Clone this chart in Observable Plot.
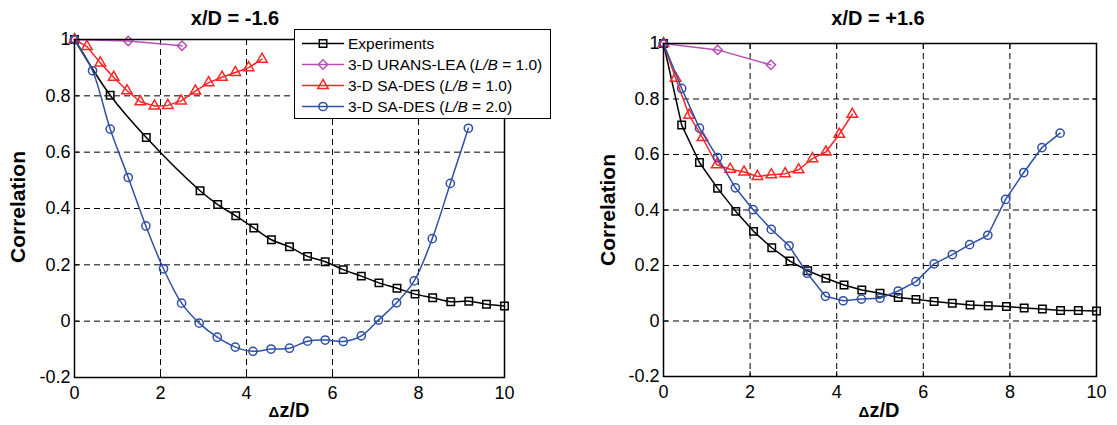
<!DOCTYPE html>
<html>
<head>
<meta charset="utf-8">
<script src="https://cdn.jsdelivr.net/npm/d3@7"></script>
<script src="https://cdn.jsdelivr.net/npm/@observablehq/plot@0.6"></script>
<style>
  html, body { margin: 0; padding: 0; background: #fff; }
  #wrap { position: relative; width: 1117px; height: 425px; overflow: hidden; font-family: "Liberation Sans", Arial, sans-serif; }
  .panel { position: absolute; top: 0; }
  .title { position: absolute; font-weight: bold; font-size: 20px; white-space: nowrap; transform: translateX(-50%); }
  .xlabel { position: absolute; font-weight: bold; font-size: 20px; white-space: nowrap; transform: translateX(-50%); }
  .ylabel { position: absolute; font-weight: bold; font-size: 21px; white-space: nowrap; transform: translate(-50%, -50%) rotate(-90deg); }
  #legend { position: absolute; left: 294px; top: 29px; width: 257px; height: 90px; box-sizing: border-box; border: 1px solid #000; background: #fff; padding-top: 3px; }
  .lrow { display: flex; align-items: center; height: 21px; font-size: 15.5px; }
  .lrow svg { margin-left: 7px; margin-right: 4px; }
</style>
</head>
<body>
<div id="wrap"></div>
<script>
// ---- data ----
const xTicks = [0, 2, 4, 6, 8, 10];
const yTicks = [-0.2, 0, 0.2, 0.4, 0.6, 0.8, 1];

const seriesNames = ["Experiments", "3-D URANS-LEA", "3-D SA-DES (L/B = 1.0)", "3-D SA-DES (L/B = 2.0)"];
const seriesColors = ["#000000", "#bb4fb3", "#ff2525", "#2f50a6"];
const seriesSymbols = ["square", "diamond2", "triangle", "circle"];

// x/D = -1.6
const leftExpX = [0, 0.83, 1.67, 2.92, 3.33, 3.75, 4.17, 4.58, 5.0, 5.42, 5.83, 6.25, 6.67, 7.08, 7.5, 7.92, 8.33, 8.75, 9.17, 9.58, 10];
const leftExpY = [1.0, 0.802, 0.652, 0.463, 0.414, 0.374, 0.331, 0.289, 0.264, 0.230, 0.211, 0.183, 0.160, 0.136, 0.117, 0.096, 0.083, 0.069, 0.071, 0.060, 0.054];
const leftUransX = [0, 1.25, 2.5];
const leftUransY = [1.0, 0.995, 0.978];
const leftDes1X = [0, 0.29, 0.60, 0.91, 1.22, 1.53, 1.86, 2.17, 2.48, 2.81, 3.12, 3.43, 3.74, 4.05, 4.36];
const leftDes1Y = [1.0, 0.975, 0.917, 0.866, 0.818, 0.779, 0.764, 0.766, 0.782, 0.817, 0.847, 0.866, 0.883, 0.900, 0.930];
const leftDes2X = [0, 0.42, 0.83, 1.25, 1.66, 2.07, 2.49, 2.90, 3.32, 3.74, 4.15, 4.57, 5.0, 5.42, 5.83, 6.25, 6.67, 7.07, 7.49, 7.9, 8.32, 8.74, 9.16];
const leftDes2Y = [1.0, 0.889, 0.682, 0.510, 0.338, 0.186, 0.064, -0.007, -0.057, -0.092, -0.107, -0.099, -0.096, -0.071, -0.067, -0.072, -0.052, 0.004, 0.065, 0.143, 0.293, 0.489, 0.685];

// x/D = +1.6
const rightExpX = [0, 0.42, 0.83, 1.25, 1.67, 2.08, 2.5, 2.92, 3.33, 3.75, 4.17, 4.58, 5.0, 5.42, 5.83, 6.25, 6.67, 7.08, 7.5, 7.92, 8.33, 8.75, 9.17, 9.58, 10];
const rightExpY = [1.0, 0.706, 0.571, 0.478, 0.395, 0.323, 0.264, 0.216, 0.181, 0.154, 0.130, 0.112, 0.100, 0.085, 0.078, 0.070, 0.064, 0.058, 0.055, 0.052, 0.047, 0.043, 0.038, 0.038, 0.036];
const rightUransX = [0, 1.25, 2.48];
const rightUransY = [1.0, 0.977, 0.923];
const rightDes1X = [0, 0.28, 0.59, 0.90, 1.23, 1.54, 1.86, 2.17, 2.49, 2.81, 3.12, 3.44, 3.75, 4.06, 4.36];
const rightDes1Y = [1.0, 0.875, 0.742, 0.661, 0.563, 0.547, 0.537, 0.521, 0.527, 0.531, 0.545, 0.585, 0.609, 0.673, 0.745];
const rightDes2X = [0, 0.42, 0.83, 1.25, 1.66, 2.07, 2.49, 2.9, 3.32, 3.74, 4.15, 4.57, 5.0, 5.42, 5.83, 6.25, 6.67, 7.07, 7.49, 7.9, 8.32, 8.74, 9.16];
const rightDes2Y = [1.0, 0.838, 0.695, 0.589, 0.480, 0.401, 0.330, 0.271, 0.172, 0.089, 0.073, 0.079, 0.082, 0.108, 0.142, 0.206, 0.239, 0.275, 0.309, 0.438, 0.535, 0.625, 0.677];

// ---- build ----
const zip = (xs, ys) => xs.map((x, i) => ({x, y: ys[i]}));
const symbolR = {square: 4.2, diamond2: 4.2, triangle: 3.9, circle: 4.1};
const fmt = d => String(+d.toFixed(1));
const blank = () => "";

function panel(series, curves, opts) {
  const marks = [
    Plot.gridX(xTicks, {stroke: "#000", strokeOpacity: 1, strokeWidth: 1, strokeDasharray: "6,4"}),
    Plot.gridY(yTicks, {stroke: "#000", strokeOpacity: 1, strokeWidth: 1, strokeDasharray: "6,4"}),
    Plot.axisX(xTicks, {anchor: "bottom", tickSize: 0, tickPadding: 9, tickFormat: fmt, fontSize: 18, label: null}),
    Plot.axisY(yTicks, {anchor: "left", tickSize: 0, tickPadding: 4, tickFormat: fmt, fontSize: 18, label: null}),
    Plot.axisX(xTicks, {anchor: "bottom", tickSize: 5, dy: -5, tickFormat: blank, strokeWidth: 1, label: null}),
    Plot.axisX(xTicks, {anchor: "top", tickSize: 5, dy: 5, tickFormat: blank, strokeWidth: 1, label: null}),
    Plot.axisY(yTicks, {anchor: "left", tickSize: 5, dx: 5, tickFormat: blank, strokeWidth: 1, label: null}),
    Plot.axisY(yTicks, {anchor: "right", tickSize: 5, dx: -5, tickFormat: blank, strokeWidth: 1, label: null})
  ];
  series.forEach((s, i) => {
    marks.push(Plot.line(s, {x: "x", y: "y", stroke: seriesColors[i], strokeWidth: 1.5, curve: curves[i]}));
    marks.push(Plot.dot(s, {x: "x", y: "y", symbol: seriesSymbols[i], stroke: seriesColors[i], fill: "none", strokeWidth: 1.5, r: symbolR[seriesSymbols[i]]}));
  });
  marks.push(Plot.frame({stroke: "#000", strokeWidth: 1.5}));
  return Plot.plot({
    width: opts.width, height: 425,
    marginLeft: opts.ml, marginRight: opts.mr, marginTop: opts.mt, marginBottom: opts.mb,
    x: {domain: [0, 10], label: null},
    y: {domain: [-0.2, 1], label: null},
    style: {fontFamily: "Liberation Sans, Arial, sans-serif", color: "#000", background: "transparent", overflow: "visible"},
    marks
  });
}

const wrap = document.getElementById("wrap");

const leftSeries = [zip(leftExpX, leftExpY), zip(leftUransX, leftUransY), zip(leftDes1X, leftDes1Y), zip(leftDes2X, leftDes2Y)];
const rightSeries = [zip(rightExpX, rightExpY), zip(rightUransX, rightUransY), zip(rightDes1X, rightDes1Y), zip(rightDes2X, rightDes2Y)];

const left = panel(leftSeries, ["catmull-rom", "linear", "linear", "catmull-rom"], {width: 590, ml: 74, mr: 86, mt: 39, mb: 48});
left.classList.add("panel"); left.style.left = "0px";
wrap.appendChild(left);

const right = panel(rightSeries, ["linear", "linear", "linear", "linear"], {width: 527, ml: 73, mr: 21, mt: 43, mb: 49});
right.classList.add("panel"); right.style.left = "590px";
wrap.appendChild(right);

function addText(cls, html, x, y) {
  const d = document.createElement("div");
  d.className = cls; d.innerHTML = html;
  d.style.left = x + "px"; d.style.top = y + "px";
  wrap.appendChild(d);
}
addText("title", "x/D = -1.6", 235, 7);
addText("title", "x/D = +1.6", 878, 7);
addText("xlabel", '<span style="font-size:15px">&Delta;</span>z/D', 289, 399);
addText("xlabel", '<span style="font-size:15px">&Delta;</span>z/D', 879, 399);
addText("ylabel", "Correlation", 18, 207);
addText("ylabel", "Correlation", 608, 210);

// legend
const legend = document.createElement("div");
legend.id = "legend";
const labels = ["Experiments", "3-D URANS-LEA (<i>L/B</i> = 1.0)", "3-D SA-DES (<i>L/B</i> = 1.0)", "3-D SA-DES (<i>L/B</i> = 2.0)"];
const d3sym = {square: d3.symbolSquare, diamond2: d3.symbolDiamond2, triangle: d3.symbolTriangle, circle: d3.symbolCircle};
labels.forEach((lab, i) => {
  const row = document.createElement("div");
  row.className = "lrow";
  const sym = seriesSymbols[i];
  const r = symbolR[sym];
  const path = d3.symbol(d3sym[sym], Math.PI * r * r)();
  row.innerHTML = `<svg width="42" height="21"><line x1="0" x2="42" y1="10.5" y2="10.5" stroke="${seriesColors[i]}" stroke-width="1.5"/><path d="${path}" transform="translate(21,10.5)" fill="none" stroke="${seriesColors[i]}" stroke-width="1.5"/></svg><span>${lab}</span>`;
  legend.appendChild(row);
});
wrap.appendChild(legend);
</script>
</body>
</html>
